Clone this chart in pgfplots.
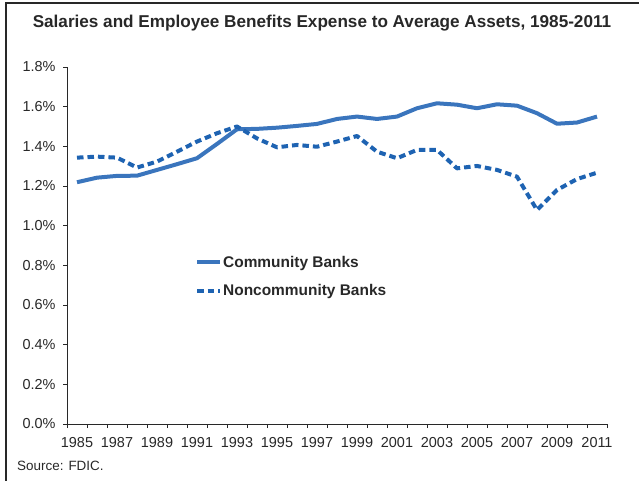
\documentclass[border=0pt]{standalone}
\usepackage{pgfplots}
\pgfplotsset{compat=1.18}
\usepackage{pgfplotstable}
\usepackage{fontspec}
\setmainfont{Liberation Sans}

\definecolor{commblue}{RGB}{58,117,189}
\definecolor{noncblue}{RGB}{30,99,178}
\definecolor{axisgray}{RGB}{40,40,40}

\pgfplotstableread{
year value
1985 1.219
1986 1.242
1987 1.251
1988 1.252
1989 1.281
1990 1.310
1991 1.340
1992 1.412
1993 1.486
1994 1.488
1995 1.494
1996 1.503
1997 1.513
1998 1.538
1999 1.550
2000 1.538
2001 1.550
2002 1.592
2003 1.617
2004 1.610
2005 1.592
2006 1.612
2007 1.605
2008 1.567
2009 1.514
2010 1.520
2011 1.550
}\community

\pgfplotstableread{
year value
1985 1.343
1986 1.348
1987 1.343
1988 1.293
1989 1.323
1990 1.373
1991 1.424
1992 1.466
1993 1.500
1994 1.440
1995 1.395
1996 1.407
1997 1.398
1998 1.424
1999 1.452
2000 1.373
2001 1.340
2002 1.382
2003 1.382
2004 1.289
2005 1.301
2006 1.281
2007 1.247
2008 1.079
2009 1.180
2010 1.235
2011 1.267
}\noncommunity

\begin{document}
\begin{tikzpicture}
% page size and frame
\useasboundingbox (0bp,0bp) rectangle (639bp,481bp);
\draw[axisgray, line width=1.2bp] (6bp,0bp) -- (6bp,478bp) -- (639bp,478bp);

\node[anchor=base, font=\bfseries\fontsize{17.2}{20}\selectfont, text=axisgray]
  at (322bp,453bp) {Salaries and Employee Benefits Expense to Average Assets, 1985-2011};
\node[anchor=base west, font=\fontsize{13.5}{15}\selectfont, inner sep=0pt, text=axisgray]
  at (17bp,11bp) {Source: FDIC.};

\begin{axis}[
  at={(67bp,57bp)}, anchor=south west,
  scale only axis, width=540bp, height=357bp,
  xmin=1984.5, xmax=2011.5, ymin=0, ymax=1.8,
  axis lines=left,
  axis line style={-, axisgray, line width=0.8bp},
  tick align=outside,
  major tick length=4bp,
  tick style={axisgray, line width=0.8bp},
  xtick={1984.5,1985.5,...,2011.5},
  xticklabels={},
  extra x ticks={1985,1987,...,2011},
  extra x tick style={major tick length=0pt, xticklabel style={yshift=-10bp}},
  extra x tick labels={1985,1987,1989,1991,1993,1995,1997,1999,2001,2003,2005,2007,2009,2011},
  ytick={0,0.2,...,1.8},
  yticklabel={\pgfmathprintnumber[fixed,fixed zerofill,precision=1]{\tick}\%},
  yticklabel style={xshift=-4bp},
  /pgf/number format/assume math mode=true,
  ticklabel style={font=\fontsize{14.5}{16}\selectfont, text=axisgray},
  legend style={at={(0.237,0.474)}, anchor=north west, draw=none, fill=none,
    font=\bfseries\fontsize{15.5}{18}\selectfont, text=axisgray,
    inner sep=0pt, row sep=14bp,
    nodes={inner sep=1bp}},
  legend cell align=left,
  legend image code/.code={\draw[#1] (0bp,0bp) -- (23bp,0bp);},
  every axis plot/.append style={line width=4bp, line join=round},
]
\addplot[commblue] table[x=year, y=value] {\community};
\addlegendentry{Community Banks}
\addplot[noncblue, dash pattern=on 6.5bp off 4bp] table[x=year, y=value] {\noncommunity};
\addlegendentry{Noncommunity Banks}
\end{axis}
\end{tikzpicture}
\end{document}
